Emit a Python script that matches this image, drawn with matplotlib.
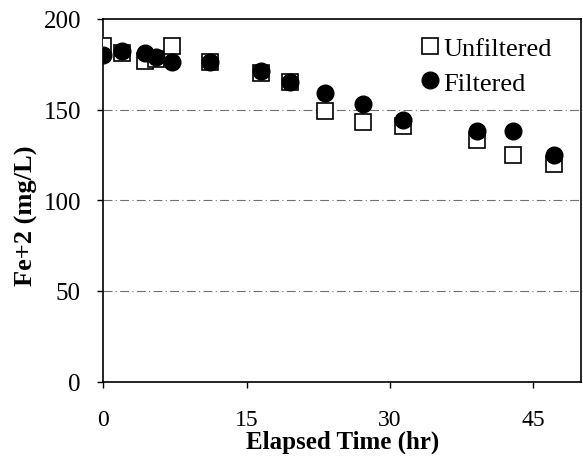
import matplotlib.pyplot as plt

plt.rcParams['font.family'] = ['Liberation Serif', 'DejaVu Serif']

# elapsed time (hr)
t = [0, 2.0, 4.4, 5.5, 7.2, 11.2, 16.5, 19.5, 23.2, 27.2, 31.4, 39.1, 42.9, 47.1]
# Fe+2 (mg/L)
unfiltered = [185, 181, 177, 178, 185, 176, 170, 165, 149, 143, 141, 133, 125, 120]
filtered = [180, 182, 181, 179, 176, 176, 171, 165, 159, 153, 144, 138, 138, 125]

fig = plt.figure(figsize=(5.83, 4.6), dpi=100)
ax = fig.add_axes([0.177, 0.168, 0.82, 0.789])

for yv in [50, 100, 150]:
    ax.axhline(yv, color='#707070', lw=0.8, ls=(0, (8, 3, 1, 3)), zorder=0)

ax.plot(t, unfiltered, 's', ms=11, mfc='white', mec='black', mew=1.2,
        label='Unfiltered', zorder=3)
ax.plot(t, filtered, 'o', ms=12, color='black', label='Filtered', zorder=4)

ax.set_xlim(0, 50)
ax.set_ylim(0, 200)
ax.set_xticks([0, 15, 30, 45])
ax.set_yticks([0, 50, 100, 150, 200])
ax.tick_params(direction='out', length=4, width=1)
ax.tick_params(axis='x', pad=16, labelsize=17)
ax.tick_params(axis='y', pad=12, labelsize=18)
for s in ax.spines.values():
    s.set_linewidth(1.2)

ax.set_xlabel('Elapsed Time (hr)', fontsize=18, fontweight='bold')
ax.xaxis.set_label_coords(0.5, -0.132)
ax.set_ylabel('Fe+2 (mg/L)', fontsize=19, fontweight='bold')
ax.yaxis.set_label_coords(-0.137, 0.46)

ax.legend(loc='upper right', frameon=False, fontsize=19, handletextpad=0.05,
          handlelength=0.9, labelspacing=0.42, borderaxespad=0.0,
          bbox_to_anchor=(0.96, 0.98))

fig.savefig('out.png', dpi=100)
